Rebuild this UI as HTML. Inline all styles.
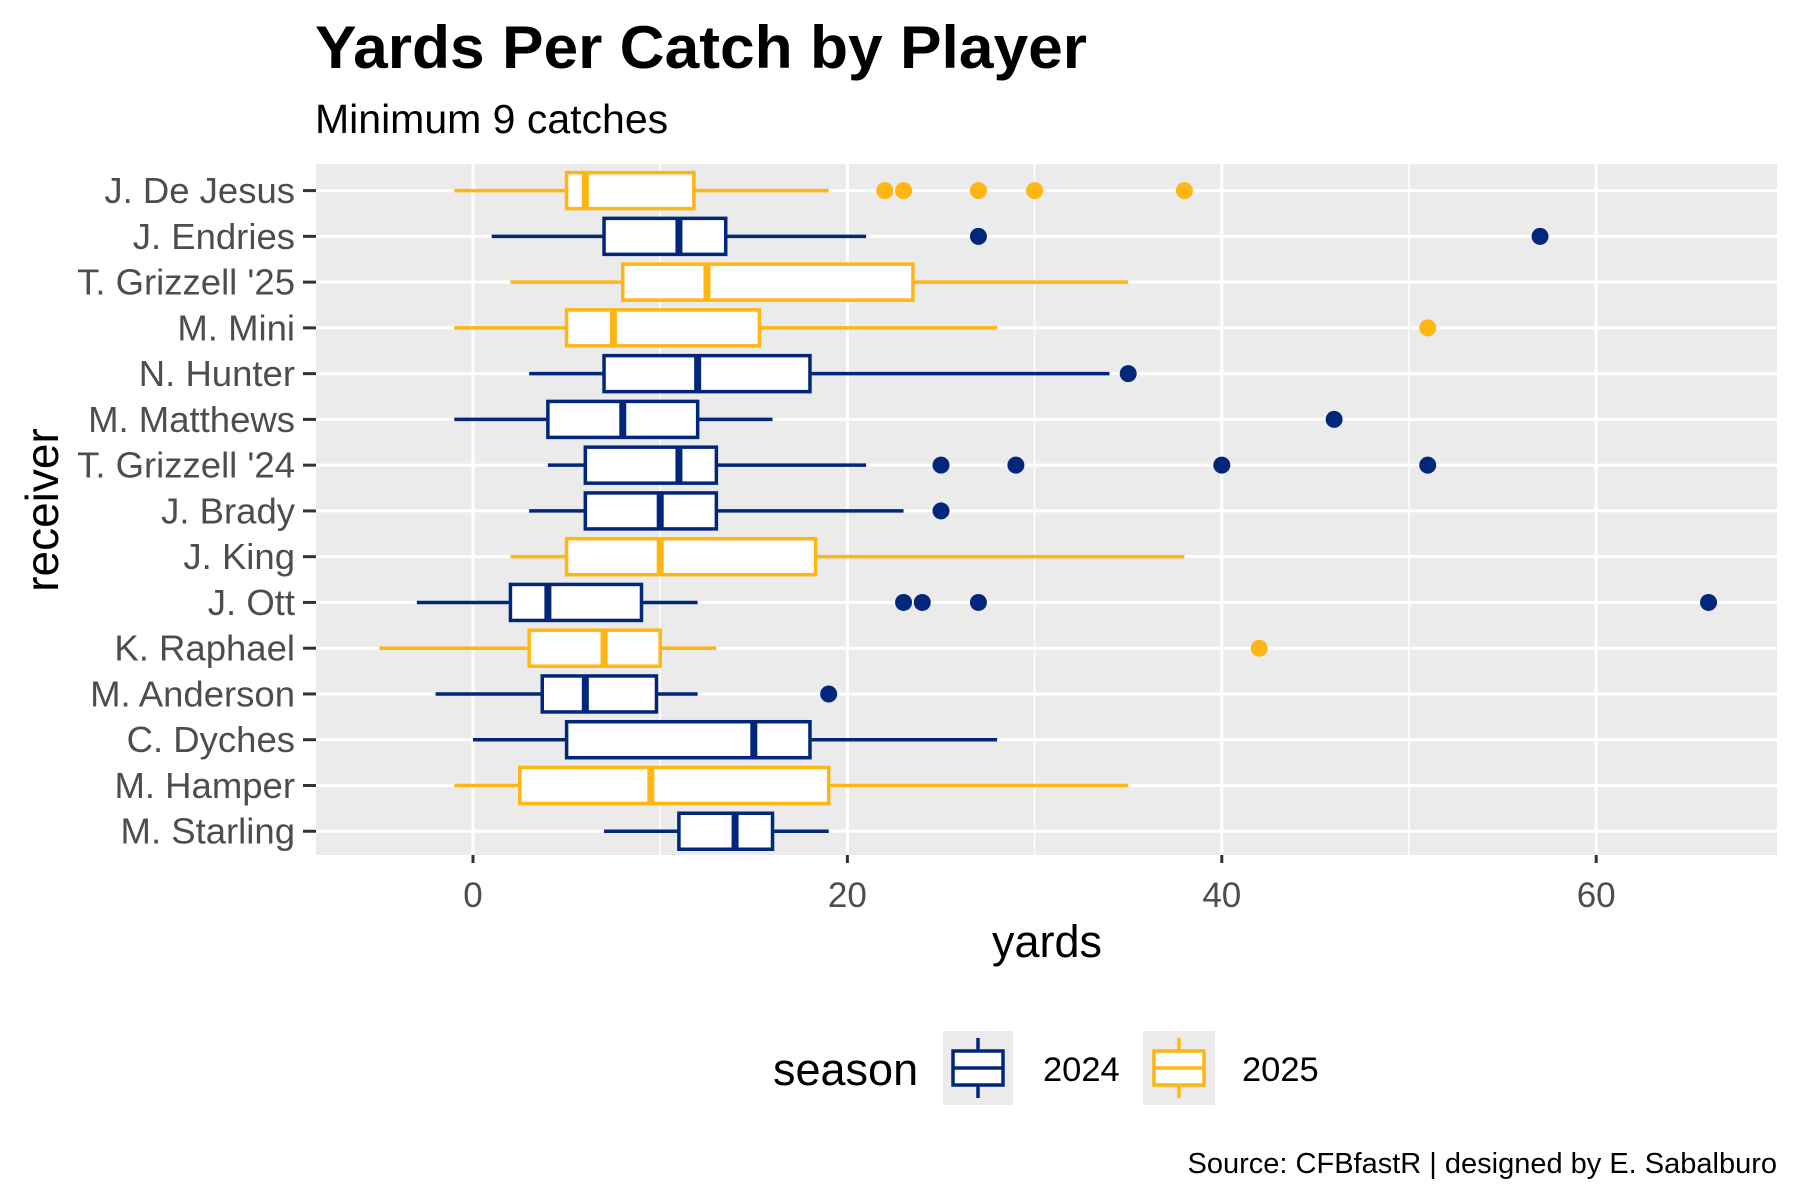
<!DOCTYPE html>
<html><head><meta charset="utf-8"><style>
html,body{margin:0;padding:0;background:#fff}
svg{display:block;font-family:"Liberation Sans",Arial,sans-serif}
</style></head><body>
<svg id="chart" width="1800" height="1200" viewBox="0 0 1800 1200">
<text x="315" y="68" font-size="60" font-weight="bold" textLength="772" lengthAdjust="spacingAndGlyphs">Yards Per Catch by Player</text>
<text x="315" y="133" font-size="41">Minimum 9 catches</text>
<rect x="316" y="164" width="1461" height="691" fill="#EBEBEB"/>
<g id="grid"></g>
<g id="marks"></g>
<g id="axes"></g>
<text x="1047" y="957" font-size="45" text-anchor="middle">yards</text>
<text transform="translate(58,510) rotate(-90)" font-size="46" text-anchor="middle">receiver</text>
<g>
<text x="773" y="1085" font-size="45">season</text>
<g>
<rect x="943" y="1031" width="70" height="74" fill="#EBEBEB"/>
<line x1="978" y1="1038" x2="978" y2="1098" stroke="#00277A" stroke-width="3.5"/>
<rect x="953" y="1051" width="50" height="34" fill="#fff" stroke="#00277A" stroke-width="3.5"/>
<line x1="953" y1="1068" x2="1003" y2="1068" stroke="#00277A" stroke-width="3.5"/>
<text x="1043" y="1081" font-size="34.5">2024</text>
</g>
<g>
<rect x="1143" y="1031" width="72" height="74" fill="#EBEBEB"/>
<line x1="1179" y1="1038" x2="1179" y2="1098" stroke="#FFB612" stroke-width="3.5"/>
<rect x="1154" y="1051" width="50" height="34" fill="#fff" stroke="#FFB612" stroke-width="3.5"/>
<line x1="1154" y1="1068" x2="1204" y2="1068" stroke="#FFB612" stroke-width="3.5"/>
<text x="1242" y="1081" font-size="34.5">2025</text>
</g>
</g>
<text x="1777" y="1173" font-size="29" text-anchor="end">Source: CFBfastR | designed by E. Sabalburo</text>
</svg>
<script>
const receivers = ["J. De Jesus","J. Endries","T. Grizzell '25","M. Mini","N. Hunter","M. Matthews","T. Grizzell '24","J. Brady","J. King","J. Ott","K. Raphael","M. Anderson","C. Dyches","M. Hamper","M. Starling"];
const seasons = [2025,2024,2025,2025,2024,2024,2024,2024,2025,2024,2025,2024,2024,2025,2024];
const whiskerLow = [-1,1,2,-1,3,-1,4,3,2,-3,-5,-2,0,-1,7];
const q1 = [5,7,8,5,7,4,6,6,5,2,3,3.7,5,2.5,11];
const medians = [6,11,12.5,7.5,12,8,11,10,10,4,7,6,15,9.5,14];
const q3 = [11.8,13.5,23.5,15.3,18,12,13,13,18.3,9,10,9.8,18,19,16];
const whiskerHigh = [19,21,35,28,34,16,21,23,38,12,13,12,28,35,19];
const outliers = [[22,23,27,30,38],[27,57],[],[51],[35],[46],[25,29,40,51],[25],[],[23,24,27,66],[42],[19],[],[],[]];
const xTicks = [0,20,40,60];
const xMinor = [10,30,50];

const NS="http://www.w3.org/2000/svg";
const PL=316,PR=1777,PT=164,PB=855;
function xs(v){return 473+18.72*v;}
function ys(i){return 190.6+45.76*i;}
function colorFor(s){return s===2024?"#00277A":"#FFB612";}
function mk(tag,attrs,parent){const e=document.createElementNS(NS,tag);for(const k in attrs)e.setAttribute(k,attrs[k]);parent.appendChild(e);return e;}
const grid=document.getElementById('grid'),marks=document.getElementById('marks'),axes=document.getElementById('axes');
xMinor.forEach(v=>{const l=mk('line',{x1:xs(v),x2:xs(v),y1:PT,y2:PB,stroke:'#fff','stroke-width':1.5},grid);

});
xTicks.forEach(v=>{const l=mk('line',{x1:xs(v),x2:xs(v),y1:PT,y2:PB,stroke:'#fff','stroke-width':3},grid);


const t=mk('line',{x1:xs(v),x2:xs(v),y1:PB,y2:PB+8,stroke:'#333','stroke-width':3},axes);


const tx=mk('text',{x:xs(v),y:907,'font-size':35,'text-anchor':'middle',fill:'#4D4D4D'},axes);tx.textContent=v;

});
receivers.forEach((r,i)=>{const y=ys(i),c=colorFor(seasons[i]);
const gl=mk('line',{x1:PL,x2:PR,y1:y,y2:y,stroke:'#fff','stroke-width':3},grid);


const tk=mk('line',{x1:PL-13,x2:PL,y1:y,y2:y,stroke:'#333','stroke-width':3},axes);


const lb=mk('text',{x:295,y:y+12.5,'font-size':36.5,'text-anchor':'end',fill:'#4D4D4D'},axes);lb.textContent=r;


const g=mk('g',{},marks);


mk('line',{x1:xs(whiskerLow[i]),x2:xs(q1[i]),y1:y,y2:y,stroke:c,'stroke-width':3.5},g);
mk('line',{x1:xs(q3[i]),x2:xs(whiskerHigh[i]),y1:y,y2:y,stroke:c,'stroke-width':3.5},g);
mk('rect',{x:xs(q1[i]),y:y-18,width:xs(q3[i])-xs(q1[i]),height:36,fill:'#fff',stroke:c,'stroke-width':3.5},g);
mk('line',{x1:xs(medians[i]),x2:xs(medians[i]),y1:y-18,y2:y+18,stroke:c,'stroke-width':7},g);
outliers[i].forEach(v=>{const p=mk('circle',{cx:xs(v),cy:y,r:8.5,fill:c},g);

});
});
</script>
</body></html>
